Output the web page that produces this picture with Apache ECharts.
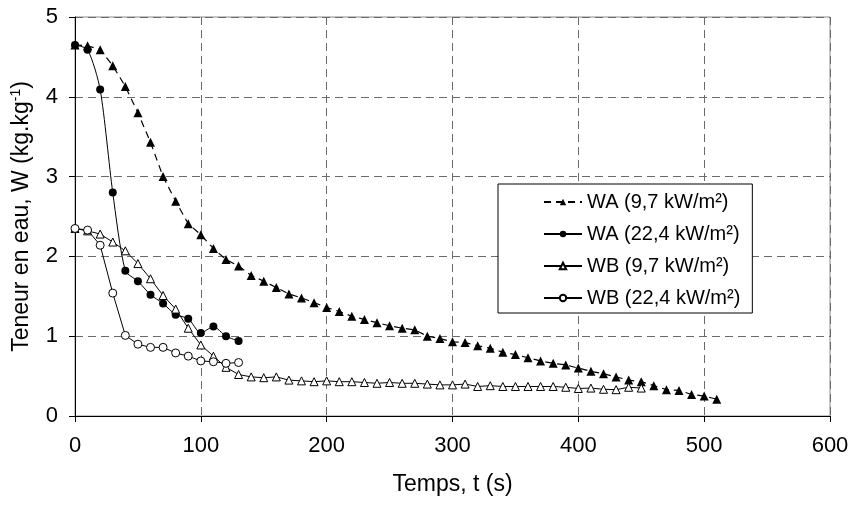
<!DOCTYPE html>
<html>
<head>
<meta charset="utf-8">
<script src="https://cdn.jsdelivr.net/npm/echarts@6/dist/echarts.min.js"></script>
<style>
html,body{margin:0;padding:0;background:#fff;}
#chart{width:852px;height:506px;}
</style>
</head>
<body>
<div id="chart"></div>
<script>
// Time (s)
var tWA97 = [0,10,20,30,40,50,60,70,80,90,100,110,120,130,140,150,160,170,180,190,200,210,220,230,240,250,260,270,280,290,300,310,320,330,340,350,360,370,380,390,400,410,420,430,440,450,460,470,480,490,500,510];
var wWA97 = [4.65,4.64,4.59,4.39,4.13,3.80,3.43,3.00,2.69,2.41,2.27,2.10,1.96,1.88,1.76,1.69,1.61,1.53,1.48,1.42,1.36,1.31,1.25,1.21,1.17,1.13,1.10,1.08,1.00,0.97,0.93,0.92,0.88,0.85,0.80,0.77,0.73,0.69,0.66,0.64,0.60,0.56,0.53,0.49,0.45,0.43,0.38,0.33,0.32,0.27,0.25,0.21];

var tWA224 = [0,10,20,30,40,50,60,70,80,90,100,110,120,130];
var wWA224 = [4.65,4.59,4.09,2.80,1.82,1.69,1.52,1.41,1.27,1.22,1.04,1.12,1.00,0.94];

var tWB97 = [0,10,20,30,40,50,60,70,80,90,100,110,120,130,140,150,160,170,180,190,200,210,220,230,240,250,260,270,280,290,300,310,320,330,340,350,360,370,380,390,400,410,420,430,440,450];
var wWB97 = [2.35,2.32,2.28,2.18,2.07,1.91,1.72,1.51,1.34,1.10,0.89,0.75,0.61,0.52,0.49,0.48,0.49,0.45,0.44,0.43,0.44,0.43,0.43,0.42,0.41,0.42,0.41,0.41,0.40,0.39,0.39,0.40,0.37,0.38,0.37,0.37,0.37,0.37,0.37,0.36,0.345,0.35,0.335,0.33,0.36,0.35];

var tWB224 = [0,10,20,30,40,50,60,70,80,90,100,110,120,130];
var wWB224 = [2.35,2.33,2.14,1.54,1.01,0.90,0.86,0.86,0.79,0.75,0.69,0.68,0.66,0.67];

var seriesNames = ['WA (9,7 kW/m²)','WA (22,4 kW/m²)','WB (9,7 kW/m²)','WB (22,4 kW/m²)'];
var xTicks = [0,100,200,300,400,500,600];
var yTicks = [0,1,2,3,4,5];

function pairs(t, w){ return t.map(function(v,i){ return [v, w[i]]; }); }

var FONT = 'Liberation Sans, Arial, sans-serif';
var chart = echarts.init(document.getElementById('chart'), null, {renderer:'canvas'});
var gridLine = {show:true, lineStyle:{color:'#6a6a6a', type:[8,5], width:1}};

chart.setOption({
  backgroundColor:'#fff',
  animation:false,
  textStyle:{fontFamily:FONT, color:'#000'},
  grid:{left:75, right:22, top:17, bottom:90, show:true, borderColor:'#8a8a8a', borderWidth:1, backgroundColor:'transparent', outerBoundsMode:'none'},
  legend:{
    orient:'vertical', left:498, top:184,
    padding:[7,12,4,45],
    itemWidth:38, itemHeight:8, itemGap:10,
    backgroundColor:'#fff', borderColor:'#000', borderWidth:1,
    textStyle:{fontFamily:FONT, fontSize:20, lineHeight:22, color:'#000'},
    data:seriesNames
  },
  xAxis:{
    type:'value', min:xTicks[0], max:xTicks[xTicks.length-1], interval:100,
    name:'Temps, t (s)', nameLocation:'middle', nameGap:57,
    nameTextStyle:{fontFamily:FONT, fontSize:23, color:'#000'},
    axisLine:{show:true, onZero:false, lineStyle:{color:'#000', width:1}},
    axisTick:{show:true, inside:false, length:6, lineStyle:{color:'#000'}},
    axisLabel:{fontFamily:FONT, fontSize:22, color:'#000', margin:19},
    splitLine:gridLine
  },
  yAxis:{
    type:'value', min:yTicks[0], max:yTicks[yTicks.length-1], interval:1,
    name:'{a|Teneur en eau, W (kg.kg}{b|-1}{a|)}', nameLocation:'middle', nameGap:40, nameRotate:90,
    nameTextStyle:{fontFamily:FONT, color:'#000',
      rich:{a:{fontFamily:FONT, fontSize:23, lineHeight:26, color:'#000'},
            b:{fontFamily:FONT, fontSize:14, lineHeight:14, verticalAlign:'top', color:'#000'}}},
    axisLine:{show:true, onZero:false, lineStyle:{color:'#000', width:1}},
    axisTick:{show:true, inside:false, length:6, lineStyle:{color:'#000'}},
    axisLabel:{fontFamily:FONT, fontSize:22, color:'#000', margin:17},
    splitLine:gridLine
  },
  series:[
    {name:seriesNames[0], type:'line', data:pairs(tWA97,wWA97), symbol:'triangle', symbolSize:9,
     lineStyle:{color:'#000', width:1.2, type:[7,5]}, itemStyle:{color:'#000'}, z:2},
    {name:seriesNames[1], type:'line', data:pairs(tWA224,wWA224), symbol:'circle', symbolSize:8, smooth:0.25,
     lineStyle:{color:'#000', width:1}, itemStyle:{color:'#000'}, z:3},
    {name:seriesNames[2], type:'line', data:pairs(tWB97,wWB97), symbol:'triangle', symbolSize:8,
     lineStyle:{color:'#000', width:1}, itemStyle:{color:'#fff', borderColor:'#000', borderWidth:1}, z:4},
    {name:seriesNames[3], type:'line', data:pairs(tWB224,wWB224), symbol:'circle', symbolSize:8,
     lineStyle:{color:'#000', width:1}, itemStyle:{color:'#fff', borderColor:'#000', borderWidth:1}, z:5}
  ]
});
</script>
</body>
</html>
